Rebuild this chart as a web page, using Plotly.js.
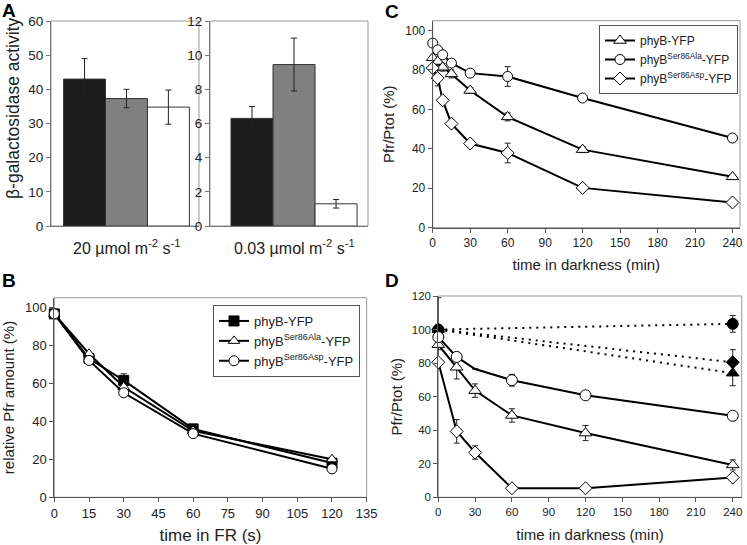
<!DOCTYPE html>
<html>
<head>
<meta charset="utf-8">
<script src="https://cdn.plot.ly/plotly-3.0.1.min.js"></script>
<style>html,body{margin:0;padding:0;background:#fff}#chart{width:747px;height:545px}</style>
</head>
<body>
<div id="chart"></div>
<script>
// ---------- Data ----------
// Panel A: beta-galactosidase activity
const aCategories = ['phyB-YFP', 'phyB Ser86Ala-YFP', 'phyB Ser86Asp-YFP'];
const aHighLight = [43.0, 37.3, 34.8];
const aHighLightErr = [6.0, 2.7, 5.0];
const aLowLight = [6.3, 9.45, 1.3];
const aLowLightErr = [0.7, 1.55, 0.25];
const aGroupLabels = ['20 µmol m<sup>-2</sup> s<sup>-1</sup>', '0.03 µmol m<sup>-2</sup> s<sup>-1</sup>'];

// Panel B: relative Pfr amount vs time in FR (s)
const bTime = [0, 15, 30, 60, 120];
const bWT = [96.5, 73.0, 61.5, 36.0, 18.0];
const bWTErr = [0, 1.5, 3.5, 1.0, 1.0];
const bAla = [96.5, 75.5, 58.0, 35.0, 20.0];
const bAlaErr = [0, 0, 0, 0, 0];
const bAsp = [96.5, 72.0, 55.0, 33.5, 15.0];
const bAspErr = [0, 0, 0, 0, 0];

// Panel C: Pfr/Ptot vs time in darkness (min)
const cTime = [0, 4, 8, 15, 30, 60, 120, 240];
const cWT = [86.2, 84.3, 81.4, 78.0, 69.6, 56.2, 39.6, 25.8];
const cWTErr = [3, 2, 2, 2, 1.5, 2, 1.5, 1];
const cAla = [93.6, 90.2, 87.7, 83.5, 78.4, 76.7, 65.8, 45.5];
const cAlaErr = [2, 1, 1, 1, 1, 5, 1, 1];
const cAsp = [81.0, 75.9, 64.6, 52.8, 42.7, 37.9, 20.2, 12.8];
const cAspErr = [3, 4, 1, 1, 1.5, 5, 1, 1];

// Panel D: Pfr/Ptot vs time in darkness (min)
const dTime = [0, 15, 30, 60, 120, 240];
const dWT = [91.0, 77.5, 63.6, 48.8, 38.3, 19.3];
const dWTErr = [3, 7, 4, 4, 4.5, 3];
const dAla = [95.5, 83.7, 76.5, 69.8, 60.8, 48.6];
const dAlaErr = [2, 1, 0, 3.5, 1, 1];
const dAsp = [80.5, 39.3, 26.7, 5.4, 5.4, 11.8];
const dAspErr = [2, 7, 4, 0.5, 0.5, 1];
const dCtrlTime = [0, 240];
const dWTCtrl = [100, 74.0];
const dWTCtrlErr = [0, 7.5];
const dAlaCtrl = [100, 103.4];
const dAlaCtrlErr = [19, 5];
const dAspCtrl = [100, 80.5];
const dAspCtrlErr = [0, 7.5];

const legendNames = ['phyB-YFP', 'phyB<sup>Ser86Ala</sup>-YFP', 'phyB<sup>Ser86Asp</sup>-YFP'];

// ---------- Helpers ----------
const W = 747, H = 545;
const px = v => v / W;
const py = v => 1 - v / H;
const FONT = 'Liberation Sans, Arial, sans-serif';
const TXT = '#222';

function errY(arr) {
  return {type: 'data', array: arr, visible: true, color: '#222', thickness: 1, width: 3};
}
// error bars drawn in their own (invisible-line) trace so markers sit on top of them
function errTrace(x, y, err, xa, ya) {
  return {type: 'scatter', mode: 'lines', x: x, y: y, xaxis: xa, yaxis: ya, cliponaxis: false,
          line: {color: 'rgba(0,0,0,0)', width: 1}, error_y: errY(err), showlegend: false, hoverinfo: 'skip'};
}
function series(x, y, name, marker, xa, ya, legend, lineStyle) {
  return {
    type: 'scatter', mode: 'lines+markers', x: x, y: y, name: name,
    xaxis: xa, yaxis: ya, cliponaxis: false,
    line: lineStyle || {color: '#000', width: 2},
    marker: Object.assign({color: '#fff', opacity: 1, line: {color: '#000', width: 1}}, marker),
    showlegend: !!legend, legend: legend || 'legend'
  };
}
const dotted = {color: '#000', width: 2, dash: '2px,5px'};

// ---------- Traces ----------
const barColors = ['#1c1c1c', '#808080', '#ffffff'];
const traces = [
  {type: 'bar', x: aCategories, y: aHighLight, xaxis: 'x', yaxis: 'y', width: 1,
   marker: {color: barColors, line: {color: '#333', width: 1}},
   error_y: errY(aHighLightErr), showlegend: false},
  {type: 'bar', x: aCategories, y: aLowLight, xaxis: 'x2', yaxis: 'y2', width: 1,
   marker: {color: barColors, line: {color: '#333', width: 1}},
   error_y: errY(aLowLightErr), showlegend: false},

  // B
  errTrace(bTime, bWT, bWTErr, 'x3', 'y3'),
  errTrace(bTime, bAla, bAlaErr, 'x3', 'y3'),
  errTrace(bTime, bAsp, bAspErr, 'x3', 'y3'),
  series(bTime, bWT, legendNames[0], {symbol: 'square', size: 10, color: '#000'}, 'x3', 'y3', 'legend'),
  series(bTime, bAla, legendNames[1], {symbol: 'triangle-up', size: 10}, 'x3', 'y3', 'legend'),
  series(bTime, bAsp, legendNames[2], {symbol: 'circle', size: 10}, 'x3', 'y3', 'legend'),

  // C
  errTrace(cTime, cWT, cWTErr, 'x4', 'y4'),
  errTrace(cTime, cAla, cAlaErr, 'x4', 'y4'),
  errTrace(cTime, cAsp, cAspErr, 'x4', 'y4'),
  series(cTime, cWT, legendNames[0], {symbol: 'triangle-up', size: 11}, 'x4', 'y4', 'legend2'),
  series(cTime, cAla, legendNames[1], {symbol: 'circle', size: 10}, 'x4', 'y4', 'legend2'),
  series(cTime, cAsp, legendNames[2], {symbol: 'diamond', size: 10}, 'x4', 'y4', 'legend2'),

  // D
  errTrace(dCtrlTime, dWTCtrl, dWTCtrlErr, 'x5', 'y5'),
  errTrace(dCtrlTime, dAspCtrl, dAspCtrlErr, 'x5', 'y5'),
  errTrace(dCtrlTime, dAlaCtrl, dAlaCtrlErr, 'x5', 'y5'),
  errTrace(dTime, dAsp, dAspErr, 'x5', 'y5'),
  errTrace(dTime, dWT, dWTErr, 'x5', 'y5'),
  errTrace(dTime, dAla, dAlaErr, 'x5', 'y5'),
  series(dCtrlTime, dWTCtrl, 'phyB-YFP (dark control)', {symbol: 'triangle-up', size: 11, color: '#000'}, 'x5', 'y5', null, dotted),
  series(dCtrlTime, dAspCtrl, 'phyB Ser86Asp-YFP (dark control)', {symbol: 'diamond', size: 10, color: '#000'}, 'x5', 'y5', null, dotted),
  series(dCtrlTime, dAlaCtrl, 'phyB Ser86Ala-YFP (dark control)', {symbol: 'circle', size: 11, color: '#000'}, 'x5', 'y5', null, dotted),
  series(dTime, dAsp, 'phyB Ser86Asp-YFP', {symbol: 'diamond', size: 10}, 'x5', 'y5', null),
  series(dTime, dWT, 'phyB-YFP', {symbol: 'triangle-up', size: 11}, 'x5', 'y5', null),
  series(dTime, dAla, 'phyB Ser86Ala-YFP', {symbol: 'circle', size: [11, 11, 0, 11, 11, 11]}, 'x5', 'y5', null)
];

// ---------- Axes ----------
function axis(domain, range, dtick, fs, extra) {
  return Object.assign({
    domain: domain, range: range, dtick: dtick, tick0: 0,
    showgrid: false, zeroline: false, showline: true, linecolor: '#555', linewidth: 1,
    ticks: 'outside', ticklen: 4, tickcolor: '#555', tickwidth: 1,
    tickfont: {family: FONT, size: fs, color: TXT}, fixedrange: true
  }, extra || {});
}

const layout = {
  width: W, height: H,
  margin: {l: 0, r: 0, t: 0, b: 0},
  paper_bgcolor: '#fff', plot_bgcolor: '#fff',
  font: {family: FONT, color: TXT},
  bargap: 0,
  // Panel A
  xaxis: axis([px(51), px(199)], [-0.8, 2.73], null, 13,
              {type: 'category', showticklabels: false, ticks: '', anchor: 'y', linecolor: '#777'}),
  yaxis: axis([py(226), py(21)], [0, 60], 10, 13.5, {anchor: 'x', linecolor: '#777', tickcolor: '#777'}),
  xaxis2: axis([px(210), px(368)], [-1.0, 2.76], null, 13,
              {type: 'category', showticklabels: false, ticks: '', anchor: 'y2', linecolor: '#777'}),
  yaxis2: axis([py(226), py(21)], [0, 12], 2, 13.5, {anchor: 'x2', linecolor: '#777', tickcolor: '#777'}),
  // Panel B
  xaxis3: axis([px(54.3), px(366.7)], [0, 135], 15, 13,
               {anchor: 'y3', title: {text: 'time in FR (s)', font: {family: FONT, size: 17, color: TXT}, standoff: 12}}),
  yaxis3: axis([py(497.3), py(297.7)], [0, 105], 20, 13,
               {anchor: 'x3', title: {text: 'relative Pfr amount (%)', font: {family: FONT, size: 15, color: TXT}, standoff: 8}}),
  // Panel C
  xaxis4: axis([px(432.7), px(740)], [0, 246], 30, 12,
               {anchor: 'y4', title: {text: 'time in darkness (min)', font: {family: FONT, size: 15, color: TXT}, standoff: 10}}),
  yaxis4: axis([py(227.7), py(20.7)], [0, 105], 20, 12,
               {anchor: 'x4', title: {text: 'Pfr/Ptot (%)', font: {family: FONT, size: 15, color: TXT}, standoff: 7}}),
  // Panel D
  xaxis5: axis([px(438.3), px(741.7)], [0, 247.3], 30, 11.5,
               {anchor: 'y5', title: {text: 'time in darkness (min)', font: {family: FONT, size: 15, color: TXT}, standoff: 12}}),
  yaxis5: axis([py(497.3), py(296)], [0, 120], 20, 11.5,
               {anchor: 'x5', title: {text: 'Pfr/Ptot (%)', font: {family: FONT, size: 15, color: TXT}, standoff: 5}}),

  legend: {x: px(360), y: py(305), xanchor: 'right', yanchor: 'top',
           bgcolor: '#fff', bordercolor: '#555', borderwidth: 1,
           font: {family: FONT, size: 13, color: TXT}, itemwidth: 30, tracegroupgap: 0},
  legend2: {x: px(738), y: py(25), xanchor: 'right', yanchor: 'top',
            bgcolor: '#fff', bordercolor: '#555', borderwidth: 1,
            font: {family: FONT, size: 12, color: TXT}, itemwidth: 30, tracegroupgap: 0},

  shapes: [
    ['x', 'y'], ['x2', 'y2'], ['x3', 'y3'], ['x4', 'y4'], ['x5', 'y5']
  ].map(([xa, ya]) => ({
    type: 'rect', xref: xa + ' domain', yref: ya + ' domain', x0: 0, x1: 1, y0: 0, y1: 1,
    line: {color: '#999', width: 1}, fillcolor: 'rgba(0,0,0,0)', layer: 'below'
  })),

  annotations: [
    {text: '<b>A</b>', x: px(9), y: py(10), xanchor: 'center', yanchor: 'middle', xref: 'paper', yref: 'paper', showarrow: false, font: {family: FONT, size: 19, color: '#000'}},
    {text: '<b>B</b>', x: px(9), y: py(280), xanchor: 'center', yanchor: 'middle', xref: 'paper', yref: 'paper', showarrow: false, font: {family: FONT, size: 19, color: '#000'}},
    {text: '<b>C</b>', x: px(392), y: py(11), xanchor: 'center', yanchor: 'middle', xref: 'paper', yref: 'paper', showarrow: false, font: {family: FONT, size: 19, color: '#000'}},
    {text: '<b>D</b>', x: px(392), y: py(280), xanchor: 'center', yanchor: 'middle', xref: 'paper', yref: 'paper', showarrow: false, font: {family: FONT, size: 19, color: '#000'}},
    {text: 'β-galactosidase activity', textangle: -90, x: px(13), y: py(108), xanchor: 'center', yanchor: 'middle',
     xref: 'paper', yref: 'paper', showarrow: false, font: {family: FONT, size: 17.5, color: TXT}},
    {text: aGroupLabels[0], x: aCategories[1], xref: 'x', y: py(247), yref: 'paper', xanchor: 'center', yanchor: 'middle',
     showarrow: false, font: {family: FONT, size: 16, color: TXT}},
    {text: aGroupLabels[1], x: aCategories[1], xref: 'x2', y: py(247), yref: 'paper', xanchor: 'center', yanchor: 'middle',
     showarrow: false, font: {family: FONT, size: 16, color: TXT}}
  ]
};

Plotly.newPlot('chart', traces, layout, {staticPlot: true, displayModeBar: false});
</script>
</body>
</html>
